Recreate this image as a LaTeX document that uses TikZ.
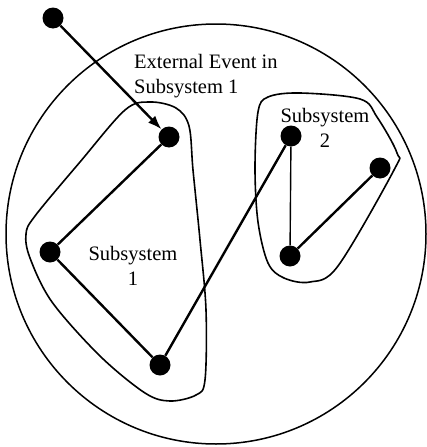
\documentclass[tikz,border=0pt]{standalone}
\usepackage{fontspec}
\setmainfont{Liberation Serif}
\usetikzlibrary{arrows.meta}
\begin{document}
\begin{tikzpicture}[x=1pt,y=-1pt,
  dot/.style={circle,fill=black,draw=none,inner sep=0pt,minimum size=21pt},
  edge/.style={line width=2.4pt},
  thinedge/.style={line width=1.4pt},
  blob/.style={line width=1.6pt},
  lbl/.style={font=\fontsize{20.5}{24.5}\selectfont,align=center,inner sep=0pt}]
\useasboundingbox (0,0) rectangle (426,447);
% system circle
\draw[line width=1.5pt] (216,234) circle (210);
% subsystem outlines
\draw[blob] plot[smooth cycle,tension=0.55] coordinates {
  (125,110) (150,102) (176,108) (189,126) (193,170) (200,240) (206,310)
  (205,380) (196,395) (170,401) (145,393) (100,356) (52,302) (30,258)
  (26,234) (35,216) (80,162)};
\draw[blob] plot[smooth cycle,tension=0.55] coordinates {
  (258,112) (268,97) (300,93) (360,99) (377,117) (397,153) (394,170)
  (338,266) (310,282) (284,278) (268,263) (258,222) (255,168)};
% nodes
\node[dot] (t) at (53,18) {};
\node[dot] (a) at (169,137) {};
\node[dot] (b) at (50,252) {};
\node[dot] (c) at (160,365) {};
\node[dot] (d) at (291,136) {};
\node[dot] (e) at (380,168) {};
\node[dot] (f) at (290,256) {};
% connectors
\draw[edge,-{Latex[length=14pt,width=10pt]}] (t) -- (a);
\draw[edge] (a) -- (b);
\draw[edge] (b) -- (c);
\draw[edge] (c) -- (d);
\draw[thinedge] (d) -- (f);
\draw[edge] (f) -- (e);
% labels
\node[lbl,align=left,anchor=west] (ext) at (134,76) {External Event in\\Subsystem 1};
\node[lbl] (s1) at (133,266) {Subsystem\\1};
\node[lbl] (s2) at (325,128) {Subsystem\\2};
\end{tikzpicture}
\end{document}
